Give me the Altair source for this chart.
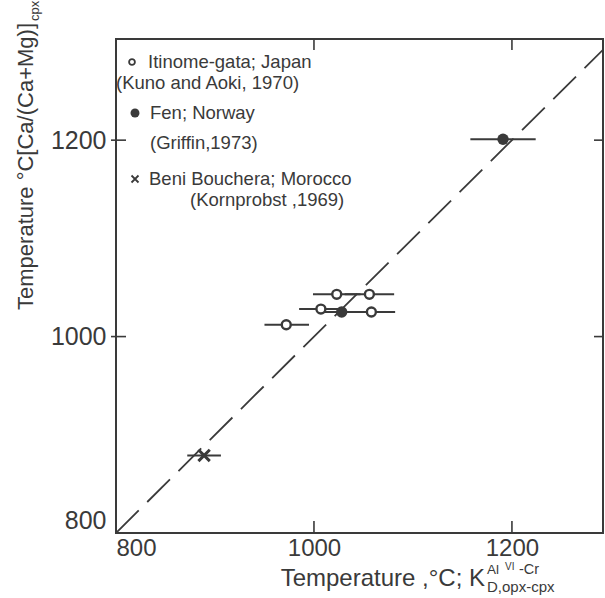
import altair as alt
import pandas as pd

# ---------------- data ----------------
itinome_x = [972, 1007, 1058, 1023, 1056]
itinome_y = [1012, 1028, 1025, 1043, 1043]
itinome_lo = [950, 985, 1035, 999, 1031]
itinome_hi = [995, 1030, 1082, 1047, 1081]

fen_x = [1028, 1191]
fen_y = [1025, 1201]
fen_lo = [1005, 1158]
fen_hi = [1050, 1224]

beni_x = [889]
beni_y = [879]
beni_lo = [872]
beni_hi = [906]

diag_vals = [800, 1292]
label_ticks = [800, 1000, 1200]
inner_ticks = [1000, 1200]

legend_lines = [
    "Itinome-gata; Japan",
    "(Kuno and Aoki, 1970)",
    "Fen; Norway",
    "(Griffin,1973)",
    "Beni Bouchera; Morocco",
    "(Kornprobst ,1969)",
]

INK = "#3a3a3a"
FONT = "Liberation Sans"
W, H = 487, 494

xs = alt.Scale(domain=[800, 1292], nice=False, zero=False)
ys = alt.Scale(domain=[800, 1303], nice=False, zero=False)

ax_x = alt.Axis(values=label_ticks, format="d", ticks=False, tickSize=0, domain=False, grid=False,
                labelFontSize=24, labelPadding=3, labelColor=INK, labelFont=FONT, title=None)
ax_y = alt.Axis(values=label_ticks, format="d", ticks=False, tickSize=0, domain=False, grid=False,
                labelFontSize=25, labelPadding=10, labelColor=INK, labelFont=FONT,
                labelFlush=True, title=None)


def X(f):
    return alt.X(f, type="quantitative", scale=xs, axis=ax_x)


def Y(f):
    return alt.Y(f, type="quantitative", scale=ys, axis=ax_y)


it = pd.DataFrame(dict(x=itinome_x, y=itinome_y, lo=itinome_lo, hi=itinome_hi))
fe = pd.DataFrame(dict(x=fen_x, y=fen_y, lo=fen_lo, hi=fen_hi))
be = pd.DataFrame(dict(x=beni_x, y=beni_y, lo=beni_lo, hi=beni_hi))
dg = pd.DataFrame(dict(x=diag_vals, y=diag_vals))
tk = pd.DataFrame(dict(v=inner_ticks))

XSHAPE = "M-1,-1L1,1M1,-1L-1,1"

diag = alt.Chart(dg).mark_line(color=INK, strokeWidth=1.8, strokeDash=[32, 12], clip=True).encode(
    x=X("x"), y=Y("y"))


def bars(df):
    return alt.Chart(df).mark_rule(color=INK, strokeWidth=2).encode(
        x=X("lo"), x2="hi", y=Y("y"))


it_pts = alt.Chart(it).mark_point(shape="circle", filled=True, fill="white", stroke=INK,
                                  strokeWidth=2.4, size=80, opacity=1).encode(x=X("x"), y=Y("y"))
fe_pts = alt.Chart(fe).mark_point(shape="circle", filled=True, color=INK, size=130,
                                  opacity=1).encode(x=X("x"), y=Y("y"))
be_pts = alt.Chart(be).mark_point(shape=XSHAPE, filled=False, color=INK, strokeWidth=3,
                                  size=130, opacity=1).encode(x=X("x"), y=Y("y"))

# inward ticks on all four sides
t_bottom = alt.Chart(tk).mark_rule(color=INK, strokeWidth=1.6).encode(
    x=X("v"), y=alt.value(H), y2=alt.value(H - 12))
t_top = alt.Chart(tk).mark_rule(color=INK, strokeWidth=1.6).encode(
    x=X("v"), y=alt.value(0), y2=alt.value(11))
t_left = alt.Chart(tk).mark_rule(color=INK, strokeWidth=1.6).encode(
    y=Y("v"), x=alt.value(-5), x2=alt.value(10))
t_right = alt.Chart(tk).mark_rule(color=INK, strokeWidth=1.6).encode(
    y=Y("v"), x=alt.value(W), x2=alt.value(W - 9))

one = alt.Data(values=[{}])


def txt(s, x, y, size, align="left", angle=0):
    m = alt.Chart(one).mark_text(text=s, font=FONT, fontSize=size, color=INK, align=align,
                                 baseline="alphabetic", angle=angle)
    return m.encode(x=alt.value(x), y=alt.value(y))


def sym(shape, x, y, size, filled, sw=1.8):
    if filled:
        m = alt.Chart(one).mark_point(shape=shape, filled=True, color=INK, size=size, opacity=1)
    else:
        m = alt.Chart(one).mark_point(shape=shape, filled=False, color=INK, size=size,
                                      strokeWidth=sw, opacity=1)
    return m.encode(x=alt.value(x), y=alt.value(y))


LF = 18.5
legend = [
    sym("circle", 16, 23, 34, False),
    txt(legend_lines[0], 32, 29, LF),
    txt(legend_lines[1], 0, 50, LF),
    sym("circle", 19, 74, 80, True),
    txt(legend_lines[2], 34, 80, LF),
    txt(legend_lines[3], 34, 110, LF),
    sym(XSHAPE, 19, 140, 49, False),
    txt(legend_lines[4], 33, 146, LF),
    txt(legend_lines[5], 74, 167, LF),
]

titles = [
    # x-axis title: Temperature ,°C; K_{D,opx-cpx}^{Al^{VI}-Cr}
    txt("Temperature ,°C; K", 369, 547, 24, align="right"),
    txt("Al", 371, 535, 13.5),
    txt("VI", 389, 531, 10),
    txt("-Cr", 403, 535, 14.5),
    txt("D,opx-cpx", 371, 553, 15),
    # y-axis title
    txt("Temperature °C[Ca/(Ca+Mg)]", -83, -16, 22, align="right", angle=270),
    txt("cpx", -77, -18, 13, align="left", angle=270),
]

chart = alt.layer(
    diag, bars(it), bars(fe), bars(be), it_pts, fe_pts, be_pts,
    t_bottom, t_top, t_left, t_right, *legend, *titles
).properties(
    width=W, height=H,
    autosize=alt.AutoSizeParams(type="none"),
    padding={"left": 116, "top": 39, "right": 2, "bottom": 65},
    background="white",
).configure_view(stroke=INK, strokeWidth=2)

chart.save("out.html", embed_options={"renderer": "svg", "actions": False})
